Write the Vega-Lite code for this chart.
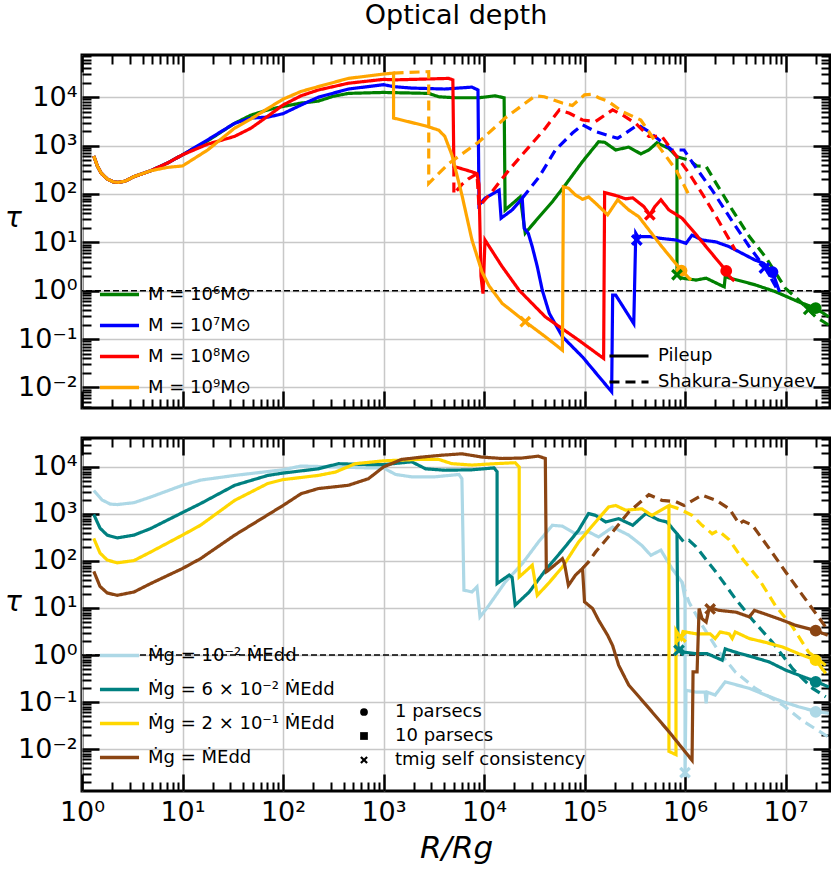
{
  "$schema": "https://vega.github.io/schema/vega-lite/v6.json",
  "background": "white",
  "padding": {"left": 3, "top": 0, "right": 3, "bottom": 2},
  "config": {
    "font": "DejaVu Sans",
    "view": {"stroke": "black", "strokeWidth": 3},
    "axis": {"labelFont": "DejaVu Sans", "titleFont": "DejaVu Sans", "labelColor": "black", "titleColor": "black", "domain": false, "tickColor": "black"},
    "legend": {"labelFont": "DejaVu Sans", "labelColor": "black", "labelLimit": 0}
  },
  "datasets": {
    "topLines": [
      {"s":"g6","m":"P","R":1.31,"t":611},{"s":"g6","m":"P","R":1.42,"t":380},{"s":"g6","m":"P","R":1.55,"t":270},{"s":"g6","m":"P","R":1.78,"t":205},{"s":"g6","m":"P","R":2.05,"t":178},{"s":"g6","m":"P","R":2.3,"t":174},{"s":"g6","m":"P","R":2.7,"t":185},{"s":"g6","m":"P","R":3.29,"t":229},{"s":"g6","m":"P","R":4.82,"t":302},
      {"s":"g6","m":"P","R":7.08,"t":437},{"s":"g6","m":"P","R":10,"t":646},{"s":"g6","m":"P","R":17.8,"t":1259},{"s":"g6","m":"P","R":32.9,"t":2884},{"s":"g6","m":"P","R":47.9,"t":4266},{"s":"g6","m":"P","R":70.8,"t":5495},{"s":"g6","m":"P","R":100,"t":6457},{"s":"g6","m":"P","R":151,"t":7586},{"s":"g6","m":"P","R":224,"t":8318},{"s":"g6","m":"P","R":316,"t":10471},{"s":"g6","m":"P","R":447,"t":12023},{"s":"g6","m":"P","R":1000,"t":12589},{"s":"g6","m":"P","R":2818,"t":12023},{"s":"g6","m":"P","R":3548,"t":10233},{"s":"g6","m":"P","R":5129,"t":9772},{"s":"g6","m":"P","R":8913,"t":9772},{"s":"g6","m":"P","R":12882,"t":10715},{"s":"g6","m":"P","R":15849,"t":9772},{"s":"g6","m":"P","R":16218,"t":46.8},{"s":"g6","m":"P","R":22909,"t":87.1},{"s":"g6","m":"P","R":25704,"t":15.5},{"s":"g6","m":"P","R":35481,"t":33.9},{"s":"g6","m":"P","R":47863,"t":69.2},{"s":"g6","m":"P","R":64565,"t":155},{"s":"g6","m":"P","R":95499,"t":468},{"s":"g6","m":"P","R":138038,"t":1202},{"s":"g6","m":"P","R":158489,"t":1175},{"s":"g6","m":"P","R":204174,"t":813},{"s":"g6","m":"P","R":275423,"t":933},{"s":"g6","m":"P","R":363078,"t":676},{"s":"g6","m":"P","R":436516,"t":813},{"s":"g6","m":"P","R":524807,"t":1148},{"s":"g6","m":"P","R":691831,"t":871},{"s":"g6","m":"P","R":831764,"t":589},{"s":"g6","m":"P","R":831764,"t":2.29},{"s":"g6","m":"P","R":933254,"t":1.82},{"s":"g6","m":"P","R":1288000,"t":1.66},{"s":"g6","m":"P","R":1622000,"t":1.82},{"s":"g6","m":"P","R":2455000,"t":1.2},{"s":"g6","m":"P","R":2512000,"t":1.95},{"s":"g6","m":"P","R":2818000,"t":1.82},{"s":"g6","m":"P","R":5012000,"t":1.32},{"s":"g6","m":"P","R":7943000,"t":0.955},{"s":"g6","m":"P","R":13490000,"t":0.589},{"s":"g6","m":"P","R":19950000,"t":0.437},{"s":"g6","m":"P","R":26920000,"t":0.288},
      {"s":"g6","m":"S","R":831764,"t":589},{"s":"g6","m":"S","R":1096000,"t":501},{"s":"g6","m":"S","R":1318000,"t":380},{"s":"g6","m":"S","R":1622000,"t":372},{"s":"g6","m":"S","R":2042000,"t":166},{"s":"g6","m":"S","R":2951000,"t":46.8},{"s":"g6","m":"S","R":4365000,"t":13.2},{"s":"g6","m":"S","R":6310000,"t":5.01},{"s":"g6","m":"S","R":10000000,"t":1.12},{"s":"g6","m":"S","R":13490000,"t":0.646},{"s":"g6","m":"S","R":19950000,"t":0.288},{"s":"g6","m":"S","R":26920000,"t":0.195},
      {"s":"b7","m":"P","R":1.31,"t":611},{"s":"b7","m":"P","R":1.42,"t":380},{"s":"b7","m":"P","R":1.55,"t":270},{"s":"b7","m":"P","R":1.78,"t":205},{"s":"b7","m":"P","R":2.05,"t":178},{"s":"b7","m":"P","R":2.3,"t":174},{"s":"b7","m":"P","R":2.7,"t":185},{"s":"b7","m":"P","R":3.29,"t":229},{"s":"b7","m":"P","R":4.82,"t":302},
      {"s":"b7","m":"P","R":7.08,"t":437},{"s":"b7","m":"P","R":10,"t":646},{"s":"b7","m":"P","R":17.8,"t":1318},{"s":"b7","m":"P","R":32.9,"t":2884},{"s":"b7","m":"P","R":47.9,"t":3715},{"s":"b7","m":"P","R":70.8,"t":3890},{"s":"b7","m":"P","R":100,"t":4571},{"s":"b7","m":"P","R":151,"t":6918},{"s":"b7","m":"P","R":224,"t":10000},{"s":"b7","m":"P","R":447,"t":14791},{"s":"b7","m":"P","R":1000,"t":18197},{"s":"b7","m":"P","R":1259,"t":16596},{"s":"b7","m":"P","R":1905,"t":15488},{"s":"b7","m":"P","R":4074,"t":14791},{"s":"b7","m":"P","R":7586,"t":16218},{"s":"b7","m":"P","R":8710,"t":14125},{"s":"b7","m":"P","R":8913,"t":58.9},{"s":"b7","m":"P","R":10233,"t":81.3},{"s":"b7","m":"P","R":14125,"t":120},{"s":"b7","m":"P","R":14791,"t":31.6},{"s":"b7","m":"P","R":19055,"t":46.8},{"s":"b7","m":"P","R":23988,"t":81.3},{"s":"b7","m":"P","R":25119,"t":19.5},{"s":"b7","m":"P","R":27542,"t":15.5},{"s":"b7","m":"P","R":30200,"t":8.13},{"s":"b7","m":"P","R":33884,"t":3.16},{"s":"b7","m":"P","R":38019,"t":1.02},{"s":"b7","m":"P","R":44668,"t":0.339},{"s":"b7","m":"P","R":60256,"t":0.112},{"s":"b7","m":"P","R":95499,"t":0.0427},{"s":"b7","m":"P","R":186209,"t":0.00813},{"s":"b7","m":"P","R":190546,"t":0.813},{"s":"b7","m":"P","R":204174,"t":0.813},{"s":"b7","m":"P","R":309030,"t":0.209},{"s":"b7","m":"P","R":323594,"t":15.5},{"s":"b7","m":"P","R":338844,"t":13.2},{"s":"b7","m":"P","R":436516,"t":13.2},{"s":"b7","m":"P","R":588844,"t":12.0},{"s":"b7","m":"P","R":812831,"t":11.2},{"s":"b7","m":"P","R":1023000,"t":9.55},{"s":"b7","m":"P","R":1175000,"t":14.1},{"s":"b7","m":"P","R":1479000,"t":11.2},{"s":"b7","m":"P","R":2042000,"t":10.2},{"s":"b7","m":"P","R":2754000,"t":8.13},{"s":"b7","m":"P","R":3715000,"t":5.89},{"s":"b7","m":"P","R":5012000,"t":4.27},{"s":"b7","m":"P","R":6026000,"t":3.72},{"s":"b7","m":"P","R":7413000,"t":2.43},{"s":"b7","m":"P","R":8710000,"t":0.955},
      {"s":"b7","m":"S","R":23988,"t":81.3},{"s":"b7","m":"S","R":35481,"t":229},{"s":"b7","m":"S","R":51286,"t":813},{"s":"b7","m":"S","R":75858,"t":1820},{"s":"b7","m":"S","R":95499,"t":2692},{"s":"b7","m":"S","R":128825,"t":1950},{"s":"b7","m":"S","R":213796,"t":1413},{"s":"b7","m":"S","R":257040,"t":1820},{"s":"b7","m":"S","R":338844,"t":2692},{"s":"b7","m":"S","R":436516,"t":1950},{"s":"b7","m":"S","R":549541,"t":1318},{"s":"b7","m":"S","R":741310,"t":813},{"s":"b7","m":"S","R":977237,"t":813},{"s":"b7","m":"S","R":1259000,"t":372},{"s":"b7","m":"S","R":1862000,"t":120},{"s":"b7","m":"S","R":2754000,"t":33.9},{"s":"b7","m":"S","R":4365000,"t":8.13},{"s":"b7","m":"S","R":6457000,"t":2.69},{"s":"b7","m":"S","R":8318000,"t":1.05},
      {"s":"r8","m":"P","R":1.31,"t":611},{"s":"r8","m":"P","R":1.42,"t":380},{"s":"r8","m":"P","R":1.55,"t":270},{"s":"r8","m":"P","R":1.78,"t":205},{"s":"r8","m":"P","R":2.05,"t":178},{"s":"r8","m":"P","R":2.3,"t":174},{"s":"r8","m":"P","R":2.7,"t":185},{"s":"r8","m":"P","R":3.29,"t":229},{"s":"r8","m":"P","R":4.82,"t":302},
      {"s":"r8","m":"P","R":7.08,"t":437},{"s":"r8","m":"P","R":10,"t":646},{"s":"r8","m":"P","R":17.8,"t":1072},{"s":"r8","m":"P","R":32.9,"t":1549},{"s":"r8","m":"P","R":47.9,"t":2291},{"s":"r8","m":"P","R":70.8,"t":4074},{"s":"r8","m":"P","R":100,"t":6918},{"s":"r8","m":"P","R":151,"t":10715},{"s":"r8","m":"P","R":224,"t":14125},{"s":"r8","m":"P","R":447,"t":19498},{"s":"r8","m":"P","R":1000,"t":23442},{"s":"r8","m":"P","R":1318,"t":22909},{"s":"r8","m":"P","R":4467,"t":24547},{"s":"r8","m":"P","R":4898,"t":22909},{"s":"r8","m":"P","R":5012,"t":372},{"s":"r8","m":"P","R":7586,"t":288},{"s":"r8","m":"P","R":8511,"t":263},{"s":"r8","m":"P","R":8913,"t":158},{"s":"r8","m":"P","R":9333,"t":2.0},{"s":"r8","m":"P","R":9772,"t":0.871},{"s":"r8","m":"P","R":10233,"t":11.2},{"s":"r8","m":"P","R":15136,"t":3.16},{"s":"r8","m":"P","R":22387,"t":1.02},{"s":"r8","m":"P","R":40738,"t":0.288},{"s":"r8","m":"P","R":87096,"t":0.0955},{"s":"r8","m":"P","R":154882,"t":0.0398},{"s":"r8","m":"P","R":158489,"t":107},{"s":"r8","m":"P","R":204174,"t":93.3},{"s":"r8","m":"P","R":257040,"t":79.4},{"s":"r8","m":"P","R":301995,"t":83.2},{"s":"r8","m":"P","R":389045,"t":55.0},{"s":"r8","m":"P","R":446684,"t":37.2},{"s":"r8","m":"P","R":501187,"t":55.0},{"s":"r8","m":"P","R":575440,"t":75.9},{"s":"r8","m":"P","R":691831,"t":46.8},{"s":"r8","m":"P","R":933254,"t":31.6},{"s":"r8","m":"P","R":1175000,"t":18.2},{"s":"r8","m":"P","R":1622000,"t":8.13},{"s":"r8","m":"P","R":2570000,"t":2.57},{"s":"r8","m":"P","R":2754000,"t":2.0},{"s":"r8","m":"P","R":3090000,"t":1.58},
      {"s":"r8","m":"S","R":5012,"t":372},{"s":"r8","m":"S","R":5012,"t":100},{"s":"r8","m":"S","R":6026,"t":158},{"s":"r8","m":"S","R":7079,"t":209},{"s":"r8","m":"S","R":8511,"t":263},{"s":"r8","m":"S","R":8913,"t":55.0},{"s":"r8","m":"S","R":12023,"t":112},{"s":"r8","m":"S","R":17783,"t":316},{"s":"r8","m":"S","R":28184,"t":955},{"s":"r8","m":"S","R":40738,"t":2291},{"s":"r8","m":"S","R":56234,"t":5495},{"s":"r8","m":"S","R":70795,"t":4677},{"s":"r8","m":"S","R":95499,"t":3388},{"s":"r8","m":"S","R":128825,"t":3162},{"s":"r8","m":"S","R":190546,"t":5495},{"s":"r8","m":"S","R":239883,"t":4266},{"s":"r8","m":"S","R":323594,"t":2884},{"s":"r8","m":"S","R":436516,"t":1549},{"s":"r8","m":"S","R":588844,"t":1549},{"s":"r8","m":"S","R":741310,"t":813},{"s":"r8","m":"S","R":1096000,"t":269},{"s":"r8","m":"S","R":1479000,"t":102},{"s":"r8","m":"S","R":2042000,"t":33.9},{"s":"r8","m":"S","R":3162000,"t":6.92},
      {"s":"o9","m":"P","R":1.31,"t":611},{"s":"o9","m":"P","R":1.42,"t":380},{"s":"o9","m":"P","R":1.55,"t":270},{"s":"o9","m":"P","R":1.78,"t":205},{"s":"o9","m":"P","R":2.05,"t":178},{"s":"o9","m":"P","R":2.3,"t":174},{"s":"o9","m":"P","R":2.7,"t":185},{"s":"o9","m":"P","R":3.29,"t":229},{"s":"o9","m":"P","R":4.82,"t":302},
      {"s":"o9","m":"P","R":7.08,"t":355},{"s":"o9","m":"P","R":10,"t":380},{"s":"o9","m":"P","R":17.8,"t":813},{"s":"o9","m":"P","R":32.9,"t":2291},{"s":"o9","m":"P","R":47.9,"t":3548},{"s":"o9","m":"P","R":70.8,"t":5888},{"s":"o9","m":"P","R":100,"t":9120},{"s":"o9","m":"P","R":151,"t":13183},{"s":"o9","m":"P","R":224,"t":16596},{"s":"o9","m":"P","R":447,"t":24547},{"s":"o9","m":"P","R":1000,"t":30200},{"s":"o9","m":"P","R":1259,"t":31623},{"s":"o9","m":"P","R":1259,"t":3715},{"s":"o9","m":"P","R":2600,"t":2570},{"s":"o9","m":"P","R":3548,"t":2089},{"s":"o9","m":"P","R":4074,"t":1549},{"s":"o9","m":"P","R":4786,"t":646},{"s":"o9","m":"P","R":6026,"t":95.5},{"s":"o9","m":"P","R":7586,"t":11.2},{"s":"o9","m":"P","R":9550,"t":2.45},{"s":"o9","m":"P","R":11220,"t":1.26},{"s":"o9","m":"P","R":15136,"t":0.55},{"s":"o9","m":"P","R":25704,"t":0.229},{"s":"o9","m":"P","R":40738,"t":0.112},{"s":"o9","m":"P","R":60256,"t":0.0589},{"s":"o9","m":"P","R":61660,"t":141},{"s":"o9","m":"P","R":69183,"t":132},{"s":"o9","m":"P","R":81283,"t":95.5},{"s":"o9","m":"P","R":95499,"t":77.6},{"s":"o9","m":"P","R":109648,"t":87.1},{"s":"o9","m":"P","R":128825,"t":64.6},{"s":"o9","m":"P","R":169824,"t":37.2},{"s":"o9","m":"P","R":213796,"t":75.9},{"s":"o9","m":"P","R":275423,"t":46.8},{"s":"o9","m":"P","R":346737,"t":33.9},{"s":"o9","m":"P","R":588844,"t":8.13},{"s":"o9","m":"P","R":922000,"t":2.61},{"s":"o9","m":"P","R":1148000,"t":1.66},
      {"s":"o9","m":"S","R":1259,"t":31623},{"s":"o9","m":"S","R":2818,"t":33884},{"s":"o9","m":"S","R":2818,"t":166},{"s":"o9","m":"S","R":4467,"t":427},{"s":"o9","m":"S","R":8913,"t":1202},{"s":"o9","m":"S","R":16218,"t":3715},{"s":"o9","m":"S","R":32359,"t":10715},{"s":"o9","m":"S","R":39811,"t":10233},{"s":"o9","m":"S","R":60256,"t":7586},{"s":"o9","m":"S","R":75858,"t":6761},{"s":"o9","m":"S","R":100000,"t":11220},{"s":"o9","m":"S","R":120226,"t":11482},{"s":"o9","m":"S","R":138038,"t":9772},{"s":"o9","m":"S","R":173780,"t":8128},{"s":"o9","m":"S","R":239883,"t":5012},{"s":"o9","m":"S","R":363078,"t":3388},{"s":"o9","m":"S","R":549541,"t":955},{"s":"o9","m":"S","R":812831,"t":316},{"s":"o9","m":"S","R":1096000,"t":95.5}
    ],
    "topPts": [
      {"s":"g6","k":"1 parsecs","R":19950000,"t":0.437},{"s":"b7","k":"1 parsecs","R":7413000,"t":2.43},{"s":"r8","k":"1 parsecs","R":2570000,"t":2.57},{"s":"o9","k":"1 parsecs","R":922000,"t":2.61},
      {"s":"g6","k":"tmig self consistency","R":831764,"t":2.14},{"s":"g6","k":"tmig self consistency","R":17000000,"t":0.41},{"s":"b7","k":"tmig self consistency","R":331131,"t":11.2},{"s":"b7","k":"tmig self consistency","R":6166000,"t":2.95},{"s":"r8","k":"tmig self consistency","R":446684,"t":37.2},{"s":"o9","k":"tmig self consistency","R":25704,"t":0.229}
    ],
    "botLines": [
      {"s":"lb","m":"P","R":1.31,"t":3162},{"s":"lb","m":"P","R":1.58,"t":1995},{"s":"lb","m":"P","R":1.91,"t":1622},{"s":"lb","m":"P","R":2.24,"t":1585},{"s":"lb","m":"P","R":3.29,"t":1738},{"s":"lb","m":"P","R":4.82,"t":2291},{"s":"lb","m":"P","R":10,"t":4074},{"s":"lb","m":"P","R":15.1,"t":5248},{"s":"lb","m":"P","R":33.1,"t":6607},{"s":"lb","m":"P","R":100,"t":8710},{"s":"lb","m":"P","R":151,"t":10471},{"s":"lb","m":"P","R":331,"t":10000},{"s":"lb","m":"P","R":708,"t":9550},{"s":"lb","m":"P","R":1000,"t":9550},{"s":"lb","m":"P","R":1318,"t":6918},{"s":"lb","m":"P","R":1905,"t":6166},{"s":"lb","m":"P","R":3236,"t":6166},{"s":"lb","m":"P","R":5623,"t":6918},{"s":"lb","m":"P","R":6026,"t":5623},{"s":"lb","m":"P","R":6310,"t":24.0},{"s":"lb","m":"P","R":7586,"t":21.9},{"s":"lb","m":"P","R":8511,"t":28.2},{"s":"lb","m":"P","R":9120,"t":6.46},{"s":"lb","m":"P","R":11220,"t":11.5},{"s":"lb","m":"P","R":16218,"t":35.5},{"s":"lb","m":"P","R":23988,"t":87.1},{"s":"lb","m":"P","R":34674,"t":251},{"s":"lb","m":"P","R":47863,"t":575},{"s":"lb","m":"P","R":60256,"t":550},{"s":"lb","m":"P","R":81283,"t":380},{"s":"lb","m":"P","R":109648,"t":417},{"s":"lb","m":"P","R":138038,"t":324},{"s":"lb","m":"P","R":190546,"t":525},{"s":"lb","m":"P","R":275423,"t":355},{"s":"lb","m":"P","R":371535,"t":214},{"s":"lb","m":"P","R":457088,"t":132},{"s":"lb","m":"P","R":575440,"t":170},{"s":"lb","m":"P","R":741310,"t":69.2},{"s":"lb","m":"P","R":933254,"t":35.5},{"s":"lb","m":"P","R":1000000,"t":15.8},{"s":"lb","m":"P","R":1000000,"t":0.00251},{"s":"lb","m":"P","R":1023000,"t":0.178},{"s":"lb","m":"P","R":1288000,"t":0.162},{"s":"lb","m":"P","R":1585000,"t":0.162},{"s":"lb","m":"P","R":1622000,"t":0.0933},{"s":"lb","m":"P","R":1660000,"t":0.162},{"s":"lb","m":"P","R":1995000,"t":0.141},{"s":"lb","m":"P","R":2512000,"t":0.269},{"s":"lb","m":"P","R":4365000,"t":0.195},{"s":"lb","m":"P","R":6310000,"t":0.141},{"s":"lb","m":"P","R":9333000,"t":0.102},{"s":"lb","m":"P","R":13490000,"t":0.0794},{"s":"lb","m":"P","R":19950000,"t":0.0631},{"s":"lb","m":"P","R":26920000,"t":0.0575},
      {"s":"lb","m":"S","R":933254,"t":35.5},{"s":"lb","m":"S","R":1096000,"t":13.2},{"s":"lb","m":"S","R":1479000,"t":4.27},{"s":"lb","m":"S","R":2188000,"t":1.15},{"s":"lb","m":"S","R":3162000,"t":0.437},{"s":"lb","m":"S","R":5012000,"t":0.195},{"s":"lb","m":"S","R":9333000,"t":0.0871},{"s":"lb","m":"S","R":14790000,"t":0.0398},{"s":"lb","m":"S","R":26920000,"t":0.0178},
      {"s":"tl","m":"P","R":1.31,"t":977},{"s":"tl","m":"P","R":1.51,"t":501},{"s":"tl","m":"P","R":1.78,"t":355},{"s":"tl","m":"P","R":2.24,"t":309},{"s":"tl","m":"P","R":3.29,"t":355},{"s":"tl","m":"P","R":4.82,"t":490},{"s":"tl","m":"P","R":10,"t":1072},{"s":"tl","m":"P","R":15.1,"t":1660},{"s":"tl","m":"P","R":33.1,"t":4074},{"s":"tl","m":"P","R":70.8,"t":6607},{"s":"tl","m":"P","R":100,"t":7413},{"s":"tl","m":"P","R":224,"t":9120},{"s":"tl","m":"P","R":355,"t":11749},{"s":"tl","m":"P","R":708,"t":11220},{"s":"tl","m":"P","R":1000,"t":11220},{"s":"tl","m":"P","R":1905,"t":12882},{"s":"tl","m":"P","R":2630,"t":9120},{"s":"tl","m":"P","R":4074,"t":8511},{"s":"tl","m":"P","R":7586,"t":8710},{"s":"tl","m":"P","R":12589,"t":9550},{"s":"tl","m":"P","R":13490,"t":7943},{"s":"tl","m":"P","R":13490,"t":33.1},{"s":"tl","m":"P","R":17783,"t":50.1},{"s":"tl","m":"P","R":19055,"t":44.7},{"s":"tl","m":"P","R":20417,"t":11.5},{"s":"tl","m":"P","R":28184,"t":21.9},{"s":"tl","m":"P","R":40738,"t":63.1},{"s":"tl","m":"P","R":60256,"t":170},{"s":"tl","m":"P","R":87096,"t":447},{"s":"tl","m":"P","R":109648,"t":1023},{"s":"tl","m":"P","R":128825,"t":933},{"s":"tl","m":"P","R":162181,"t":676},{"s":"tl","m":"P","R":218776,"t":794},{"s":"tl","m":"P","R":301995,"t":575},{"s":"tl","m":"P","R":407380,"t":1023},{"s":"tl","m":"P","R":549541,"t":741},{"s":"tl","m":"P","R":660693,"t":676},{"s":"tl","m":"P","R":831764,"t":380},{"s":"tl","m":"P","R":851138,"t":1.48},{"s":"tl","m":"P","R":977237,"t":1.15},{"s":"tl","m":"P","R":1288000,"t":1.07},{"s":"tl","m":"P","R":1660000,"t":1.07},{"s":"tl","m":"P","R":2344000,"t":0.776},{"s":"tl","m":"P","R":2512000,"t":1.35},{"s":"tl","m":"P","R":3162000,"t":1.15},{"s":"tl","m":"P","R":4677000,"t":0.912},{"s":"tl","m":"P","R":6918000,"t":0.708},{"s":"tl","m":"P","R":10000000,"t":0.479},{"s":"tl","m":"P","R":14790000,"t":0.347},{"s":"tl","m":"P","R":19950000,"t":0.275},{"s":"tl","m":"P","R":26920000,"t":0.209},
      {"s":"tl","m":"S","R":831764,"t":380},{"s":"tl","m":"S","R":977237,"t":251},{"s":"tl","m":"S","R":1096000,"t":275},{"s":"tl","m":"S","R":1288000,"t":200},{"s":"tl","m":"S","R":2042000,"t":57.5},{"s":"tl","m":"S","R":3162000,"t":15.8},{"s":"tl","m":"S","R":4677000,"t":5.62},{"s":"tl","m":"S","R":7413000,"t":1.86},{"s":"tl","m":"S","R":11750000,"t":0.513},{"s":"tl","m":"S","R":18620000,"t":0.195},{"s":"tl","m":"S","R":25120000,"t":0.129},
      {"s":"yl","m":"P","R":1.31,"t":302},{"s":"yl","m":"P","R":1.51,"t":148},{"s":"yl","m":"P","R":1.78,"t":105},{"s":"yl","m":"P","R":2.24,"t":91.2},{"s":"yl","m":"P","R":3.29,"t":102},{"s":"yl","m":"P","R":4.82,"t":155},{"s":"yl","m":"P","R":10,"t":355},{"s":"yl","m":"P","R":15.1,"t":575},{"s":"yl","m":"P","R":33.1,"t":1950},{"s":"yl","m":"P","R":70.8,"t":4467},{"s":"yl","m":"P","R":100,"t":5370},{"s":"yl","m":"P","R":224,"t":6607},{"s":"yl","m":"P","R":331,"t":7762},{"s":"yl","m":"P","R":525,"t":11749},{"s":"yl","m":"P","R":1000,"t":13490},{"s":"yl","m":"P","R":2239,"t":14454},{"s":"yl","m":"P","R":3548,"t":14454},{"s":"yl","m":"P","R":4786,"t":11749},{"s":"yl","m":"P","R":7586,"t":10965},{"s":"yl","m":"P","R":12882,"t":11749},{"s":"yl","m":"P","R":20417,"t":12303},{"s":"yl","m":"P","R":22387,"t":10000},{"s":"yl","m":"P","R":22387,"t":45.7},{"s":"yl","m":"P","R":30200,"t":81.3},{"s":"yl","m":"P","R":33884,"t":18.6},{"s":"yl","m":"P","R":43652,"t":33.1},{"s":"yl","m":"P","R":60256,"t":74.1},{"s":"yl","m":"P","R":87096,"t":251},{"s":"yl","m":"P","R":128825,"t":676},{"s":"yl","m":"P","R":173780,"t":1413},{"s":"yl","m":"P","R":204174,"t":1514},{"s":"yl","m":"P","R":257040,"t":1202},{"s":"yl","m":"P","R":371535,"t":1288},{"s":"yl","m":"P","R":467735,"t":933},{"s":"yl","m":"P","R":691831,"t":1514},{"s":"yl","m":"P","R":691831,"t":0.00891},{"s":"yl","m":"P","R":812831,"t":0.00759},{"s":"yl","m":"P","R":812831,"t":3.31},{"s":"yl","m":"P","R":912011,"t":2.24},{"s":"yl","m":"P","R":954993,"t":3.16},{"s":"yl","m":"P","R":1288000,"t":2.82},{"s":"yl","m":"P","R":1778000,"t":2.82},{"s":"yl","m":"P","R":1995000,"t":2.24},{"s":"yl","m":"P","R":2239000,"t":3.09},{"s":"yl","m":"P","R":2754000,"t":2.82},{"s":"yl","m":"P","R":2951000,"t":2.24},{"s":"yl","m":"P","R":3162000,"t":3.09},{"s":"yl","m":"P","R":4365000,"t":2.24},{"s":"yl","m":"P","R":6310000,"t":1.86},{"s":"yl","m":"P","R":9333000,"t":1.48},{"s":"yl","m":"P","R":13490000,"t":1.07},{"s":"yl","m":"P","R":19950000,"t":0.776},{"s":"yl","m":"P","R":25120000,"t":0.407},
      {"s":"yl","m":"S","R":691831,"t":1514},{"s":"yl","m":"S","R":870964,"t":1288},{"s":"yl","m":"S","R":1175000,"t":933},{"s":"yl","m":"S","R":1479000,"t":575},{"s":"yl","m":"S","R":1862000,"t":380},{"s":"yl","m":"S","R":2138000,"t":447},{"s":"yl","m":"S","R":2754000,"t":282},{"s":"yl","m":"S","R":3715000,"t":112},{"s":"yl","m":"S","R":5495000,"t":39.8},{"s":"yl","m":"S","R":7943000,"t":11.2},{"s":"yl","m":"S","R":11750000,"t":3.98},{"s":"yl","m":"S","R":16980000,"t":1.15},{"s":"yl","m":"S","R":25120000,"t":0.603},
      {"s":"br","m":"P","R":1.31,"t":60.3},{"s":"br","m":"P","R":1.51,"t":28.8},{"s":"br","m":"P","R":1.78,"t":20.9},{"s":"br","m":"P","R":2.24,"t":18.6},{"s":"br","m":"P","R":3.29,"t":21.9},{"s":"br","m":"P","R":4.82,"t":33.1},{"s":"br","m":"P","R":10,"t":69.2},{"s":"br","m":"P","R":15.1,"t":112},{"s":"br","m":"P","R":33.1,"t":355},{"s":"br","m":"P","R":100,"t":1514},{"s":"br","m":"P","R":151,"t":2692},{"s":"br","m":"P","R":224,"t":3467},{"s":"br","m":"P","R":447,"t":4074},{"s":"br","m":"P","R":708,"t":5623},{"s":"br","m":"P","R":1000,"t":10000},{"s":"br","m":"P","R":1514,"t":14454},{"s":"br","m":"P","R":2399,"t":16218},{"s":"br","m":"P","R":3802,"t":17783},{"s":"br","m":"P","R":6026,"t":19055},{"s":"br","m":"P","R":9550,"t":16218},{"s":"br","m":"P","R":15136,"t":15136},{"s":"br","m":"P","R":23988,"t":15488},{"s":"br","m":"P","R":34674,"t":16982},{"s":"br","m":"P","R":40738,"t":15136},{"s":"br","m":"P","R":41687,"t":58.9},{"s":"br","m":"P","R":43652,"t":63.1},{"s":"br","m":"P","R":60256,"t":112},{"s":"br","m":"P","R":63096,"t":89.1},{"s":"br","m":"P","R":69183,"t":30.2},{"s":"br","m":"P","R":81283,"t":50.1},{"s":"br","m":"P","R":95499,"t":69.2},{"s":"br","m":"P","R":100000,"t":13.5},{"s":"br","m":"P","R":120226,"t":9.77},{"s":"br","m":"P","R":138038,"t":5.5},{"s":"br","m":"P","R":169824,"t":2.63},{"s":"br","m":"P","R":190546,"t":1.58},{"s":"br","m":"P","R":218776,"t":0.603},{"s":"br","m":"P","R":275423,"t":0.229},{"s":"br","m":"P","R":436516,"t":0.0741},{"s":"br","m":"P","R":691831,"t":0.0234},{"s":"br","m":"P","R":1175000,"t":0.00575},{"s":"br","m":"P","R":1202000,"t":0.437},{"s":"br","m":"P","R":1318000,"t":0.437},{"s":"br","m":"P","R":1380000,"t":9.77},{"s":"br","m":"P","R":1479000,"t":5.89},{"s":"br","m":"P","R":1622000,"t":5.01},{"s":"br","m":"P","R":1738000,"t":9.77},{"s":"br","m":"P","R":1862000,"t":9.77},{"s":"br","m":"P","R":2188000,"t":8.91},{"s":"br","m":"P","R":3236000,"t":8.13},{"s":"br","m":"P","R":4365000,"t":6.46},{"s":"br","m":"P","R":4898000,"t":8.91},{"s":"br","m":"P","R":6918000,"t":6.92},{"s":"br","m":"P","R":9333000,"t":5.5},{"s":"br","m":"P","R":12590000,"t":4.27},{"s":"br","m":"P","R":19950000,"t":3.31},{"s":"br","m":"P","R":26300000,"t":2.63},
      {"s":"br","m":"S","R":95499,"t":69.2},{"s":"br","m":"S","R":109648,"t":95.5},{"s":"br","m":"S","R":128825,"t":155},{"s":"br","m":"S","R":190546,"t":417},{"s":"br","m":"S","R":275423,"t":1096},{"s":"br","m":"S","R":436516,"t":2570},{"s":"br","m":"S","R":588844,"t":1950},{"s":"br","m":"S","R":812831,"t":1820},{"s":"br","m":"S","R":977237,"t":1514},{"s":"br","m":"S","R":1479000,"t":2512},{"s":"br","m":"S","R":2042000,"t":1950},{"s":"br","m":"S","R":2754000,"t":1288},{"s":"br","m":"S","R":3467000,"t":617},{"s":"br","m":"S","R":3802000,"t":708},{"s":"br","m":"S","R":4677000,"t":575},{"s":"br","m":"S","R":6918000,"t":182},{"s":"br","m":"S","R":10000000,"t":58.9},{"s":"br","m":"S","R":14790000,"t":18.6},{"s":"br","m":"S","R":21880000,"t":5.89},{"s":"br","m":"S","R":26920000,"t":3.16}
    ],
    "botPts": [
      {"s":"lb","k":"1 parsecs","R":19950000,"t":0.0617},{"s":"tl","k":"1 parsecs","R":19950000,"t":0.269},{"s":"yl","k":"1 parsecs","R":19950000,"t":0.776},{"s":"br","k":"1 parsecs","R":19950000,"t":3.31},
      {"s":"lb","k":"tmig self consistency","R":1000000,"t":0.00316},{"s":"tl","k":"tmig self consistency","R":870964,"t":1.26},{"s":"yl","k":"tmig self consistency","R":912011,"t":2.4},{"s":"br","k":"tmig self consistency","R":1778000,"t":9.55}
    ]
  },
  "vconcat": [
    {
      "width": 748,
      "height": 353,
      "title": {"text": "Optical depth", "fontSize": 27, "fontWeight": "normal", "font": "DejaVu Sans", "color": "black", "anchor": "middle", "frame": "group", "baseline": "alphabetic", "offset": -9},
      "resolve": {"axis": {"x": "independent", "y": "independent"}},
      "layer": [
        {
          "data": {"values": [{}]},
          "mark": {"type": "rule", "color": "black", "strokeWidth": 1.6, "strokeDash": [6, 3]},
          "encoding": {
            "y": {"datum": 1, "type": "quantitative", "scale": {"type": "log", "domain": [0.00376, 74800], "nice": false}, "axis": null}
          }
        },
        {
          "data": {"name": "topLines"},
          "mark": {"type": "line", "strokeWidth": 3.2, "clip": true},
          "encoding": {
            "x": {"field": "R", "type": "quantitative", "scale": {"type": "log", "domain": [1, 27700000], "nice": false},
              "axis": {"orient": "bottom", "labels": false, "title": null, "grid": true, "gridColor": "#c8c8c8", "gridWidth": 1.5,
                "values": [1,2,3,4,5,6,7,8,9,10,20,30,40,50,60,70,80,90,100,200,300,400,500,600,700,800,900,1000,2000,3000,4000,5000,6000,7000,8000,9000,10000,20000,30000,40000,50000,60000,70000,80000,90000,100000,200000,300000,400000,500000,600000,700000,800000,900000,1000000,2000000,3000000,4000000,5000000,6000000,7000000,8000000,9000000,10000000,20000000],
                "gridOpacity": {"condition": {"test": "abs(log(datum.value)/LN10-round(log(datum.value)/LN10))<0.001", "value": 1}, "value": 0},
                "tickSize": {"condition": {"test": "abs(log(datum.value)/LN10-round(log(datum.value)/LN10))<0.001", "value": -17}, "value": -9},
                "tickWidth": {"condition": {"test": "abs(log(datum.value)/LN10-round(log(datum.value)/LN10))<0.001", "value": 2.5}, "value": 2}}},
            "y": {"field": "t", "type": "quantitative", "scale": {"type": "log", "domain": [0.00376, 74800], "nice": false},
              "axis": {"orient": "left", "grid": true, "gridColor": "#c8c8c8", "gridWidth": 1.5,
                "values": [0.004,0.005,0.006,0.007,0.008,0.009,0.01,0.02,0.03,0.04,0.05,0.06,0.07,0.08,0.09,0.1,0.2,0.3,0.4,0.5,0.6,0.7,0.8,0.9,1,2,3,4,5,6,7,8,9,10,20,30,40,50,60,70,80,90,100,200,300,400,500,600,700,800,900,1000,2000,3000,4000,5000,6000,7000,8000,9000,10000,20000,30000,40000,50000,60000,70000],
                "gridOpacity": {"condition": {"test": "abs(log(datum.value)/LN10-round(log(datum.value)/LN10))<0.001", "value": 1}, "value": 0},
                "tickSize": {"condition": {"test": "abs(log(datum.value)/LN10-round(log(datum.value)/LN10))<0.001", "value": -17}, "value": -9},
                "tickWidth": {"condition": {"test": "abs(log(datum.value)/LN10-round(log(datum.value)/LN10))<0.001", "value": 2.5}, "value": 2},
                "labelExpr": "abs(log(datum.value)/LN10-round(log(datum.value)/LN10))<0.001 ? '10'+(round(log(datum.value)/LN10)<0?'⁻':'')+['⁰','¹','²','³','⁴','⁵','⁶','⁷','⁸','⁹'][abs(round(log(datum.value)/LN10))] : ''",
                "labelFontSize": 27, "labelPadding": 22, "labelOverlap": false, "labelFlush": false, "labelBound": false,
                "title": "τ", "titleAngle": 0, "titleFontSize": 28, "titleFontStyle": "italic", "titleFontWeight": "normal", "titleX": -69, "titleY": 163, "titleAlign": "center", "titleBaseline": "middle"}},
            "color": {"field": "s", "type": "nominal", "scale": {"domain": ["g6", "b7", "r8", "o9"], "range": ["#008000", "#0000ff", "#ff0000", "#ffa500"]},
              "legend": {"orient": "none", "legendX": 25, "legendY": 227, "title": null, "symbolType": "M-1.86,0L1.86,0", "symbolSize": 441, "symbolStrokeWidth": 3.5, "labelFontSize": 18, "labelOffset": 16, "rowPadding": 9,
                "labelExpr": "datum.label == 'g6' ? 'M = 10⁶M⊙' : datum.label == 'b7' ? 'M = 10⁷M⊙' : datum.label == 'r8' ? 'M = 10⁸M⊙' : 'M = 10⁹M⊙'"}},
            "strokeDash": {"field": "m", "type": "nominal", "scale": {"domain": ["P", "S"], "range": [[1, 0], [10, 6]]},
              "legend": {"orient": "none", "legendX": 535, "legendY": 289, "title": null, "symbolType": "M-1.86,0L1.86,0", "symbolSize": 441, "symbolStrokeWidth": 3, "symbolStrokeColor": "black", "labelFontSize": 18, "labelOffset": 17, "rowPadding": 5,
                "labelExpr": "datum.label == 'P' ? 'Pileup' : 'Shakura-Sunyaev'"}},
            "order": {"value": null}
          }
        },
        {
          "data": {"name": "topPts"},
          "mark": {"type": "point", "filled": true, "opacity": 1, "size": 140, "strokeWidth": 0},
          "encoding": {
            "x": {"field": "R", "type": "quantitative", "scale": {"type": "log", "domain": [1, 27700000], "nice": false},
              "axis": {"orient": "top", "labels": false, "title": null, "grid": false,
                "values": [1,2,3,4,5,6,7,8,9,10,20,30,40,50,60,70,80,90,100,200,300,400,500,600,700,800,900,1000,2000,3000,4000,5000,6000,7000,8000,9000,10000,20000,30000,40000,50000,60000,70000,80000,90000,100000,200000,300000,400000,500000,600000,700000,800000,900000,1000000,2000000,3000000,4000000,5000000,6000000,7000000,8000000,9000000,10000000,20000000],
                "tickSize": {"condition": {"test": "abs(log(datum.value)/LN10-round(log(datum.value)/LN10))<0.001", "value": -17}, "value": -9},
                "tickWidth": {"condition": {"test": "abs(log(datum.value)/LN10-round(log(datum.value)/LN10))<0.001", "value": 2.5}, "value": 2}}},
            "y": {"field": "t", "type": "quantitative", "scale": {"type": "log", "domain": [0.00376, 74800], "nice": false},
              "axis": {"orient": "right", "labels": false, "title": null, "grid": false,
                "values": [0.004,0.005,0.006,0.007,0.008,0.009,0.01,0.02,0.03,0.04,0.05,0.06,0.07,0.08,0.09,0.1,0.2,0.3,0.4,0.5,0.6,0.7,0.8,0.9,1,2,3,4,5,6,7,8,9,10,20,30,40,50,60,70,80,90,100,200,300,400,500,600,700,800,900,1000,2000,3000,4000,5000,6000,7000,8000,9000,10000,20000,30000,40000,50000,60000,70000],
                "tickSize": {"condition": {"test": "abs(log(datum.value)/LN10-round(log(datum.value)/LN10))<0.001", "value": -17}, "value": -9},
                "tickWidth": {"condition": {"test": "abs(log(datum.value)/LN10-round(log(datum.value)/LN10))<0.001", "value": 2.5}, "value": 2}}},
            "color": {"field": "s", "type": "nominal", "scale": {"domain": ["g6", "b7", "r8", "o9"], "range": ["#008000", "#0000ff", "#ff0000", "#ffa500"]}, "legend": null},
            "shape": {"field": "k", "type": "nominal", "scale": {"domain": ["1 parsecs", "10 parsecs", "tmig self consistency"], "range": ["circle", "square", "M-1,-0.6L-0.6,-1L0,-0.4L0.6,-1L1,-0.6L0.4,0L1,0.6L0.6,1L0,0.4L-0.6,1L-1,0.6L-0.4,0Z"]}, "legend": null}
          }
        }
      ]
    },
    {
      "width": 748,
      "height": 353,
      "resolve": {"axis": {"x": "independent", "y": "independent"}},
      "layer": [
        {
          "data": {"values": [{}]},
          "mark": {"type": "rule", "color": "black", "strokeWidth": 1.6, "strokeDash": [6, 3]},
          "encoding": {
            "y": {"datum": 1, "type": "quantitative", "scale": {"type": "log", "domain": [0.00128, 41300], "nice": false}, "axis": null}
          }
        },
        {
          "data": {"name": "botLines"},
          "mark": {"type": "line", "strokeWidth": 3.2, "clip": true},
          "encoding": {
            "x": {"field": "R", "type": "quantitative", "scale": {"type": "log", "domain": [1, 27700000], "nice": false},
              "axis": {"orient": "bottom", "grid": true, "gridColor": "#c8c8c8", "gridWidth": 1.5,
                "values": [1,2,3,4,5,6,7,8,9,10,20,30,40,50,60,70,80,90,100,200,300,400,500,600,700,800,900,1000,2000,3000,4000,5000,6000,7000,8000,9000,10000,20000,30000,40000,50000,60000,70000,80000,90000,100000,200000,300000,400000,500000,600000,700000,800000,900000,1000000,2000000,3000000,4000000,5000000,6000000,7000000,8000000,9000000,10000000,20000000],
                "gridOpacity": {"condition": {"test": "abs(log(datum.value)/LN10-round(log(datum.value)/LN10))<0.001", "value": 1}, "value": 0},
                "tickSize": {"condition": {"test": "abs(log(datum.value)/LN10-round(log(datum.value)/LN10))<0.001", "value": -17}, "value": -9},
                "tickWidth": {"condition": {"test": "abs(log(datum.value)/LN10-round(log(datum.value)/LN10))<0.001", "value": 2.5}, "value": 2},
                "labelExpr": "abs(log(datum.value)/LN10-round(log(datum.value)/LN10))<0.001 ? '10'+(round(log(datum.value)/LN10)<0?'⁻':'')+['⁰','¹','²','³','⁴','⁵','⁶','⁷','⁸','⁹'][abs(round(log(datum.value)/LN10))] : ''",
                "labelFontSize": 27, "labelPadding": 25, "labelOverlap": false, "labelFlush": false, "labelBound": false,
                "title": "R/Rg", "titleFontSize": 31, "titleFontStyle": "italic", "titleFontWeight": "normal", "titlePadding": 0}},
            "y": {"field": "t", "type": "quantitative", "scale": {"type": "log", "domain": [0.00128, 41300], "nice": false},
              "axis": {"orient": "left", "grid": true, "gridColor": "#c8c8c8", "gridWidth": 1.5,
                "values": [0.002,0.003,0.004,0.005,0.006,0.007,0.008,0.009,0.01,0.02,0.03,0.04,0.05,0.06,0.07,0.08,0.09,0.1,0.2,0.3,0.4,0.5,0.6,0.7,0.8,0.9,1,2,3,4,5,6,7,8,9,10,20,30,40,50,60,70,80,90,100,200,300,400,500,600,700,800,900,1000,2000,3000,4000,5000,6000,7000,8000,9000,10000,20000,30000,40000],
                "gridOpacity": {"condition": {"test": "abs(log(datum.value)/LN10-round(log(datum.value)/LN10))<0.001", "value": 1}, "value": 0},
                "tickSize": {"condition": {"test": "abs(log(datum.value)/LN10-round(log(datum.value)/LN10))<0.001", "value": -17}, "value": -9},
                "tickWidth": {"condition": {"test": "abs(log(datum.value)/LN10-round(log(datum.value)/LN10))<0.001", "value": 2.5}, "value": 2},
                "labelExpr": "abs(log(datum.value)/LN10-round(log(datum.value)/LN10))<0.001 ? '10'+(round(log(datum.value)/LN10)<0?'⁻':'')+['⁰','¹','²','³','⁴','⁵','⁶','⁷','⁸','⁹'][abs(round(log(datum.value)/LN10))] : ''",
                "labelFontSize": 27, "labelPadding": 22, "labelOverlap": false, "labelFlush": false, "labelBound": false,
                "title": "τ", "titleAngle": 0, "titleFontSize": 28, "titleFontStyle": "italic", "titleFontWeight": "normal", "titleX": -69, "titleY": 164, "titleAlign": "center", "titleBaseline": "middle"}},
            "color": {"field": "s", "type": "nominal", "scale": {"domain": ["lb", "tl", "yl", "br"], "range": ["#add8e6", "#008080", "#ffd700", "#8b4513"]},
              "legend": {"orient": "none", "legendX": 25, "legendY": 205, "title": null, "symbolType": "M-1.86,0L1.86,0", "symbolSize": 441, "symbolStrokeWidth": 3.5, "labelFontSize": 18, "labelOffset": 16, "rowPadding": 12,
                "labelExpr": "datum.label == 'lb' ? 'Ṁg = 10⁻² ṀEdd' : datum.label == 'tl' ? 'Ṁg = 6 × 10⁻² ṀEdd' : datum.label == 'yl' ? 'Ṁg = 2 × 10⁻¹ ṀEdd' : 'Ṁg = ṀEdd'"}},
            "strokeDash": {"field": "m", "type": "nominal", "scale": {"domain": ["P", "S"], "range": [[1, 0], [10, 6]]}, "legend": null},
            "order": {"value": null}
          }
        },
        {
          "data": {"name": "botPts"},
          "mark": {"type": "point", "filled": true, "opacity": 1, "size": 140, "strokeWidth": 0},
          "encoding": {
            "x": {"field": "R", "type": "quantitative", "scale": {"type": "log", "domain": [1, 27700000], "nice": false},
              "axis": {"orient": "top", "labels": false, "title": null, "grid": false,
                "values": [1,2,3,4,5,6,7,8,9,10,20,30,40,50,60,70,80,90,100,200,300,400,500,600,700,800,900,1000,2000,3000,4000,5000,6000,7000,8000,9000,10000,20000,30000,40000,50000,60000,70000,80000,90000,100000,200000,300000,400000,500000,600000,700000,800000,900000,1000000,2000000,3000000,4000000,5000000,6000000,7000000,8000000,9000000,10000000,20000000],
                "tickSize": {"condition": {"test": "abs(log(datum.value)/LN10-round(log(datum.value)/LN10))<0.001", "value": -17}, "value": -9},
                "tickWidth": {"condition": {"test": "abs(log(datum.value)/LN10-round(log(datum.value)/LN10))<0.001", "value": 2.5}, "value": 2}}},
            "y": {"field": "t", "type": "quantitative", "scale": {"type": "log", "domain": [0.00128, 41300], "nice": false},
              "axis": {"orient": "right", "labels": false, "title": null, "grid": false,
                "values": [0.002,0.003,0.004,0.005,0.006,0.007,0.008,0.009,0.01,0.02,0.03,0.04,0.05,0.06,0.07,0.08,0.09,0.1,0.2,0.3,0.4,0.5,0.6,0.7,0.8,0.9,1,2,3,4,5,6,7,8,9,10,20,30,40,50,60,70,80,90,100,200,300,400,500,600,700,800,900,1000,2000,3000,4000,5000,6000,7000,8000,9000,10000,20000,30000,40000],
                "tickSize": {"condition": {"test": "abs(log(datum.value)/LN10-round(log(datum.value)/LN10))<0.001", "value": -17}, "value": -9},
                "tickWidth": {"condition": {"test": "abs(log(datum.value)/LN10-round(log(datum.value)/LN10))<0.001", "value": 2.5}, "value": 2}}},
            "color": {"field": "s", "type": "nominal", "scale": {"domain": ["lb", "tl", "yl", "br"], "range": ["#add8e6", "#008080", "#ffd700", "#8b4513"]}, "legend": null},
            "shape": {"field": "k", "type": "nominal", "scale": {"domain": ["1 parsecs", "10 parsecs", "tmig self consistency"], "range": ["circle", "square", "M-1,-0.6L-0.6,-1L0,-0.4L0.6,-1L1,-0.6L0.4,0L1,0.6L0.6,1L0,0.4L-0.6,1L-1,0.6L-0.4,0Z"]},
              "legend": {"orient": "none", "legendX": 273, "legendY": 265, "title": null, "symbolSize": 60, "symbolFillColor": "black", "symbolStrokeColor": "black", "symbolStrokeWidth": 0, "labelFontSize": 18, "labelOffset": 22, "rowPadding": 6}}
          }
        }
      ]
    }
  ],
  "spacing": 1,
  "resolve": {
    "scale": {"color": "independent", "strokeDash": "independent", "shape": "independent"},
    "legend": {"color": "independent", "strokeDash": "independent", "shape": "independent"}
  }
}
